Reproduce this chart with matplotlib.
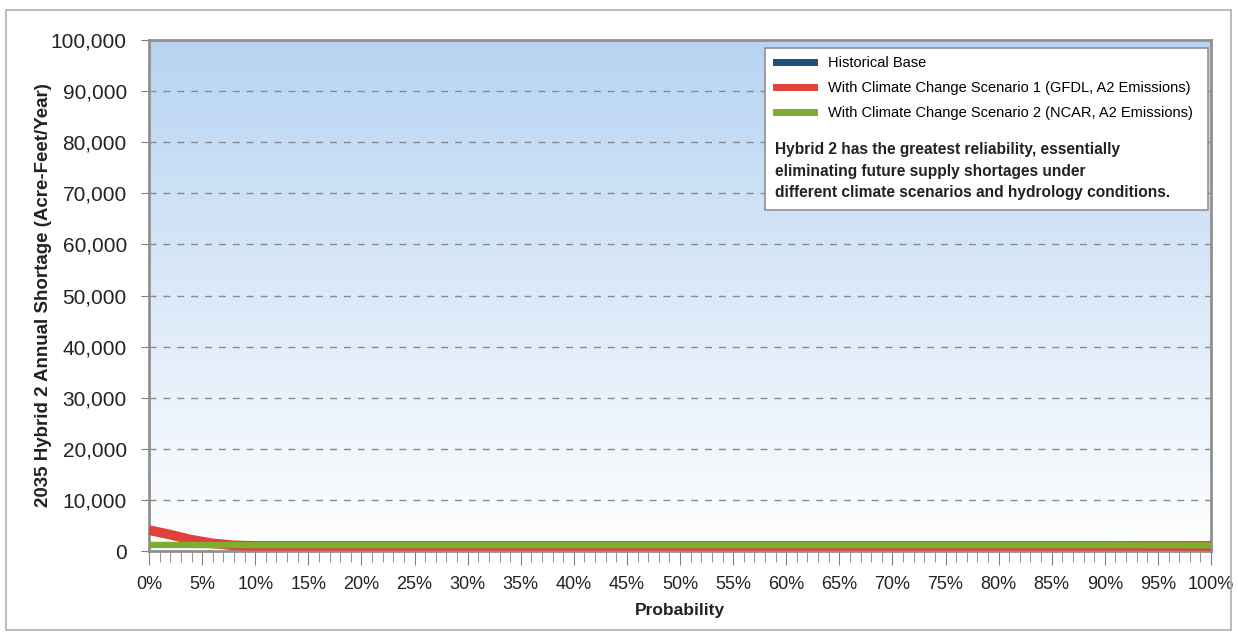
import numpy as np
import matplotlib.pyplot as plt
from matplotlib.patches import Rectangle
from matplotlib.lines import Line2D

plt.rcParams['font.family'] = ['Liberation Sans', 'DejaVu Sans']

# probability (%) and shortage values (acre-feet/year)
prob = [0, 2, 4, 6, 8, 10, 20, 30, 40, 50, 60, 70, 80, 90, 100]
historical = [1000, 1000, 1000, 1000, 1000, 1000, 1000, 1000, 1000, 1000, 1000, 1000, 1000, 1000, 1000]
scenario1 = [4100, 3200, 2200, 1500, 1100, 1000, 1000, 1000, 1000, 1000, 1000, 1000, 1000, 1000, 1000]
scenario2 = [1200, 1200, 1200, 1150, 1150, 1150, 1150, 1150, 1150, 1150, 1150, 1150, 1150, 1150, 1100]

labels = ['Historical Base',
          'With Climate Change Scenario 1 (GFDL, A2 Emissions)',
          'With Climate Change Scenario 2 (NCAR, A2 Emissions)']
colors = ['#1f4e79', '#e0413a', '#7fae2e']
note = ('Hybrid 2 has the greatest reliability, essentially\n'
        'eliminating future supply shortages under\n'
        'different climate scenarios and hydrology conditions.')

fig = plt.figure(figsize=(12.37, 6.33), dpi=100)
fig.patches.append(Rectangle((0.005, 0.004), 0.99, 0.98, transform=fig.transFigure,
                             fill=False, edgecolor='#b0b0b0', lw=1.2))
ax = fig.add_axes([0.1205, 0.1295, 0.8585, 0.8073])

# blue-to-white background gradient
grad = np.linspace(0, 1, 256).reshape(-1, 1)
top = np.array([0.72, 0.83, 0.95])
bot = np.array([1.0, 1.0, 1.0])
img = grad[:, :, None] * top + (1 - grad[:, :, None]) * bot
ax.imshow(img, extent=[0, 1, 0, 1], transform=ax.transAxes, origin='lower',
          aspect='auto', zorder=0)

ax.plot(prob, historical, color=colors[0], lw=3, zorder=3, solid_capstyle='butt')
ax.plot(prob, scenario1, color=colors[1], lw=7, zorder=4, solid_capstyle='butt')
ax.plot(prob, scenario2, color=colors[2], lw=4.5, zorder=5, solid_capstyle='butt')

ax.set_xlim(0, 100)
ax.set_ylim(0, 100000)
ax.set_xticks(range(0, 101, 5))
ax.set_xticklabels([f'{v}%' for v in range(0, 101, 5)])
ax.set_xticks(range(0, 101, 1), minor=True)
ax.set_yticks(range(0, 100001, 10000))
ax.set_yticklabels([f'{v:,}' for v in range(0, 100001, 10000)])
ax.tick_params(axis='both', colors='#808080', labelcolor='#222222')
ax.tick_params(axis='x', which='major', length=10, direction='out', labelsize=13, pad=8)
ax.tick_params(axis='x', which='minor', length=8, direction='out', color='#808080')
ax.tick_params(axis='y', length=6, direction='out', labelsize=15, pad=10)
for v in range(10000, 100000, 10000):
    ax.axhline(v, color='#8a8a8a', lw=1, ls=(0, (5, 5)), zorder=1)
for s in ax.spines.values():
    s.set_color('#909090')
    s.set_linewidth(2)

ax.set_xlabel('Probability', fontsize=12.5, fontweight='bold', color='#222222', labelpad=7)
ax.set_ylabel('2035 Hybrid 2 Annual Shortage (Acre-Feet/Year)', fontsize=13.5,
              fontweight='bold', color='#222222', labelpad=-1)

# legend box with note
ax.add_patch(Rectangle((0.580, 0.668), 0.417, 0.316, transform=ax.transAxes,
                       facecolor='white', edgecolor='#909090', lw=1.2, zorder=6))
handles = [Line2D([], [], color=c, lw=5) for c in colors]
leg = ax.legend(handles, labels, loc='upper left', bbox_to_anchor=(0.582, 0.985),
                frameon=False, fontsize=10.5, handlelength=2.6, labelspacing=0.75,
                borderaxespad=0.2, handletextpad=1.0)
leg.set_zorder(7)
ax.text(0.589, 0.80, note, transform=ax.transAxes, fontsize=11.2, fontweight='bold',
        va='top', ha='left', color='#222222', linespacing=1.55, zorder=7)

fig.savefig('out.png', dpi=100)
